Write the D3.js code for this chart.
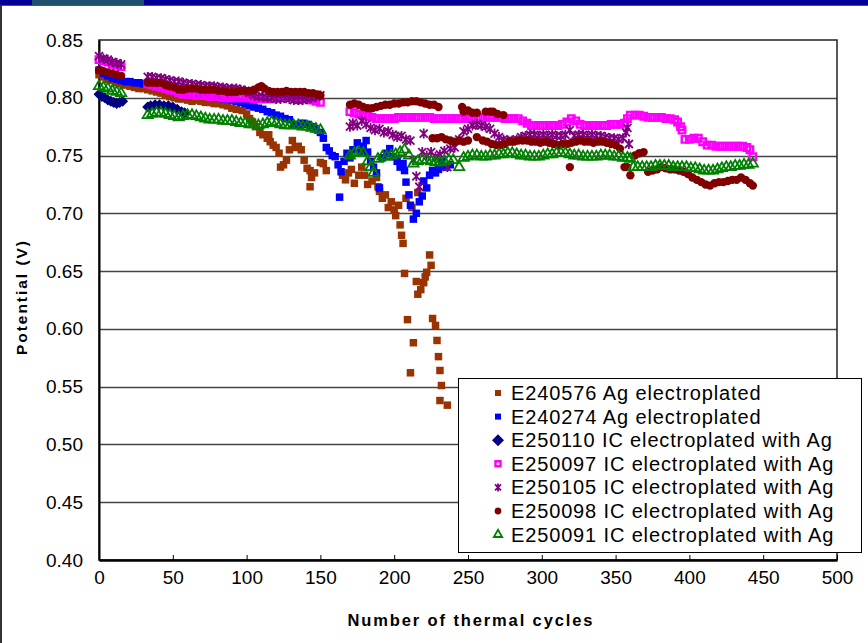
<!DOCTYPE html>
<html>
<head>
<meta charset="utf-8">
<script src="https://cdn.jsdelivr.net/npm/d3@7"></script>
<style>
  body { margin: 0; background: #fff; }
  svg { display: block; font-family: Arial, "Liberation Sans", sans-serif; }
</style>
</head>
<body>
<svg id="chart"></svg>
<script>
// series names, in legend order
var seriesNames = [
    'E240576 Ag electroplated',
    'E240274 Ag electroplated',
    'E250110 IC electroplated with Ag',
    'E250097 IC electroplated with Ag',
    'E250105 IC electroplated with Ag',
    'E250098 IC electroplated with Ag',
    'E250091 IC electroplated with Ag'
];

// axis ticks
var xTicks = [0, 50, 100, 150, 200, 250, 300, 350, 400, 450, 500];
var yTicks = [0.40, 0.45, 0.50, 0.55, 0.60, 0.65, 0.70, 0.75, 0.80, 0.85];

// [cycle, potential]
var e240576 = [[0,0.820],[3,0.818],[6,0.816],[9,0.815],[12,0.813],[15,0.812],[18,0.811],[21,0.810],[24,0.809],[27,0.808],[30,0.808],
    [33,0.807],[36,0.806],[39,0.805],[42,0.804],[45,0.802],[48,0.801],[51,0.800],[54,0.799],[57,0.799],[60,0.798],[63,0.797],
    [66,0.798],[69,0.797],[72,0.796],[75,0.796],[78,0.795],[81,0.795],[84,0.794],[87,0.793],[90,0.791],[93,0.790],[97,0.789],
    [100,0.786],[102,0.782],[104,0.779],[106,0.775],[109,0.770],[111,0.768],[114,0.765],[116,0.762],[118,0.759],[120,0.757],
    [115,0.768],[122,0.752],[123,0.740],[125,0.742],[127,0.746],[129,0.755],[131,0.763],[133,0.757],[135,0.758],[137,0.755],
    [139,0.746],[141,0.739],[143,0.737],[144,0.731],[143,0.723],[146,0.735],[150,0.744],[152,0.743],[154,0.737],
    [165,0.733],[167,0.729],[169,0.735],[171,0.738],[173,0.726],[176,0.733],[178,0.740],[180,0.733],[182,0.725],[185,0.728],
    [188,0.731],[189,0.723],[190,0.719],[192,0.713],[194,0.716],[196,0.705],[198,0.710],[200,0.703],[201,0.698],[203,0.707],
    [204,0.690],[205,0.681],[206,0.674],[208,0.713],[212,0.705],[216,0.718],[207,0.648],[209,0.608],[211,0.562],[213,0.588],
    [215,0.641],[216,0.630],[218,0.634],[220,0.640],[221,0.645],[222,0.649],[224,0.664],[225,0.655],[226,0.609],[228,0.603],
    [229,0.590],[230,0.576],[231,0.564],[232,0.551],[231,0.538],[236,0.534]];

var e240274 = [[0,0.824],[3,0.821],[6,0.819],[9,0.817],[12,0.816],[15,0.815],[18,0.814],[21,0.814],[24,0.813],[27,0.813],
    [30,0.812],[33,0.812],[36,0.811],[39,0.810],[42,0.810],[45,0.809],[48,0.808],[51,0.808],[54,0.807],[57,0.806],[60,0.805],
    [63,0.804],[66,0.803],[69,0.802],[72,0.802],[75,0.801],[78,0.800],[81,0.800],[84,0.799],[87,0.799],[90,0.798],[93,0.797],
    [96,0.796],[99,0.795],[102,0.793],[105,0.792],[108,0.791],[111,0.790],[114,0.788],[117,0.787],[120,0.785],[123,0.784],
    [126,0.782],[129,0.781],[132,0.777],[135,0.776],[138,0.778],[141,0.777],[144,0.775],[147,0.773],[150,0.770],[152,0.765],
    [154,0.757],[156,0.754],[158,0.750],[160,0.749],[162,0.742],[163,0.714],[164,0.736],[166,0.745],[168,0.752],[170,0.748],
    [172,0.755],[175,0.761],[177,0.753],[179,0.758],[181,0.763],[182,0.753],[184,0.745],[186,0.740],[188,0.735],[190,0.722],
    [192,0.748],[195,0.752],[197,0.756],[199,0.749],[202,0.745],[204,0.740],[206,0.743],[207,0.737],[208,0.727],[210,0.716],
    [211,0.707],[213,0.695],[215,0.700],[217,0.710],[219,0.715],[220,0.728],[222,0.722],[224,0.733],[226,0.737],[228,0.735],
    [230,0.738],[232,0.745],[235,0.740],[238,0.742]];

var e250110 = [[0,0.803],[2,0.801],[4,0.800],[6,0.798],[8,0.797],[10,0.796],[12,0.795],[14,0.796],[16,0.797],
    [33,0.792],[35,0.793],[38,0.794],[41,0.794],[44,0.793],[47,0.793],[50,0.792],[53,0.790],[56,0.788],[58,0.787]];

var e250097 = [[0,0.833],[3,0.832],[6,0.831],[9,0.829],[12,0.828],[15,0.827],
    [33,0.812],[36,0.811],[39,0.810],[42,0.809],[45,0.808],[48,0.807],[51,0.806],[54,0.804],[57,0.803],[60,0.803],[63,0.803],
    [66,0.802],[69,0.802],[72,0.802],[75,0.801],[78,0.801],[81,0.801],[84,0.800],[87,0.800],[90,0.800],[93,0.800],[96,0.800],
    [99,0.800],[102,0.800],[105,0.799],[108,0.799],[111,0.799],[114,0.799],[117,0.799],[120,0.802],[123,0.802],[126,0.802],
    [129,0.802],[132,0.801],[135,0.801],[138,0.800],[141,0.799],[144,0.798],[147,0.797],[150,0.796],
    [170,0.788],[173,0.787],[176,0.786],[179,0.785],[182,0.784],[185,0.783],[188,0.782],[191,0.782],[194,0.782],[197,0.782],
    [200,0.782],[203,0.783],[206,0.783],[209,0.783],[212,0.783],[215,0.783],[218,0.783],[221,0.783],[224,0.783],[227,0.782],
    [230,0.782],[233,0.782],[236,0.782],[239,0.782],[242,0.782],[245,0.782],[248,0.782],[251,0.782],[254,0.783],[257,0.783],
    [260,0.783],[263,0.783],[266,0.783],[269,0.783],[272,0.783],[275,0.782],[278,0.782],[281,0.782],[284,0.782],[287,0.780],
    [290,0.778],[293,0.776],[296,0.776],[299,0.776],[302,0.776],[305,0.776],[308,0.776],[311,0.776],[314,0.777],[317,0.779],
    [320,0.782],[323,0.780],[326,0.777],[329,0.776],[332,0.776],[335,0.776],[338,0.776],[341,0.776],[344,0.776],[347,0.777],
    [350,0.777],[353,0.777],[356,0.778],[358,0.782],[360,0.785],[363,0.785],[366,0.785],[369,0.784],[372,0.783],[375,0.783],
    [378,0.783],[381,0.783],[384,0.782],[387,0.782],[390,0.781],[392,0.779],[394,0.775],[395,0.772],[397,0.764],[400,0.764],
    [403,0.765],[406,0.765],[409,0.762],[412,0.759],[415,0.759],[418,0.758],[421,0.758],[424,0.758],[427,0.758],[430,0.758],
    [433,0.758],[436,0.758],[439,0.757],[441,0.755],[443,0.749]];

var e250105 = [[0,0.836],[3,0.834],[6,0.833],[9,0.831],[12,0.830],[15,0.829],
    [33,0.818],[36,0.818],[39,0.817],[42,0.817],[45,0.816],[48,0.815],[51,0.814],[54,0.814],[57,0.813],[60,0.812],[63,0.812],
    [66,0.811],[69,0.811],[72,0.810],[75,0.810],[78,0.810],[81,0.809],[84,0.809],[87,0.808],[90,0.808],[93,0.808],[96,0.807],
    [99,0.806],[102,0.804],[105,0.802],[108,0.801],[111,0.801],[114,0.800],[117,0.800],[120,0.799],[123,0.799],[126,0.800],
    [129,0.799],[132,0.798],[135,0.798],[138,0.798],[141,0.799],[144,0.800],[147,0.801],[150,0.802],
    [170,0.775],[172,0.778],[175,0.776],[178,0.780],[181,0.777],[184,0.774],[187,0.772],[190,0.773],[193,0.770],[196,0.771],
    [199,0.768],[202,0.766],[205,0.767],[208,0.764],[211,0.763],[213,0.746],[215,0.732],[217,0.723],[219,0.753],[220,0.769],
    [222,0.750],[225,0.753],[228,0.749],[231,0.751],[234,0.754],[236,0.740],[238,0.756],[241,0.757],[244,0.764],[247,0.771],
    [250,0.773],[253,0.776],[256,0.777],[259,0.776],[262,0.775],[265,0.773],[268,0.769],[271,0.766],[274,0.764],[277,0.763],
    [280,0.763],[283,0.764],[286,0.766],[289,0.767],[292,0.768],[295,0.768],[298,0.767],[301,0.768],[304,0.767],[307,0.768],
    [310,0.767],[313,0.767],[316,0.768],[319,0.772],[322,0.767],[325,0.768],[328,0.768],[331,0.767],[334,0.768],[337,0.767],
    [340,0.767],[343,0.766],[346,0.765],[349,0.765],[352,0.764],[355,0.765],[357,0.770],[358,0.774],[359,0.760]];

var e250098 = [[0,0.824],[3,0.823],[6,0.822],[9,0.821],[12,0.820],[15,0.819],
    [33,0.813],[36,0.813],[39,0.813],[42,0.813],[45,0.811],[48,0.810],[51,0.809],[54,0.807],[57,0.807],[60,0.808],[63,0.808],
    [66,0.808],[69,0.807],[72,0.807],[75,0.807],[78,0.807],[81,0.806],[84,0.806],[87,0.805],[90,0.805],[93,0.805],[96,0.806],
    [99,0.806],[102,0.806],[105,0.807],[108,0.809],[110,0.810],[112,0.808],[115,0.806],[118,0.805],[121,0.805],[124,0.805],
    [127,0.806],[130,0.805],[133,0.805],[136,0.805],[139,0.805],[142,0.804],[145,0.804],[148,0.803],[150,0.802],
    [170,0.794],[173,0.795],[176,0.794],[179,0.792],[182,0.791],[185,0.791],[188,0.792],[191,0.793],[194,0.794],[197,0.794],
    [200,0.795],[203,0.795],[206,0.796],[209,0.796],[212,0.797],[215,0.797],[218,0.796],[221,0.795],[224,0.794],[227,0.794],
    [230,0.792],[226,0.765],[229,0.765],[232,0.766],[235,0.764],[238,0.763],
    [246,0.792],[247,0.788],[250,0.789],[253,0.787],[256,0.787],[262,0.788],[265,0.788],[267,0.788],[270,0.786],[274,0.785],
    [241,0.762],[244,0.763],[247,0.762],[250,0.763],[256,0.766],[260,0.763],[263,0.762],[266,0.760],[269,0.759],[272,0.759],
    [275,0.760],[278,0.762],[281,0.762],[284,0.763],[287,0.763],[290,0.763],[293,0.762],[296,0.762],[299,0.761],[302,0.762],
    [305,0.761],[308,0.760],[311,0.759],[314,0.760],[317,0.760],[319,0.740],[320,0.761],[323,0.762],[326,0.763],[329,0.762],
    [332,0.762],[335,0.761],[338,0.762],[341,0.762],[344,0.761],[347,0.760],[350,0.759],[353,0.756],[356,0.740],[358,0.740],
    [360,0.733],[363,0.750],[366,0.752],[369,0.753],[372,0.736],[375,0.737],[378,0.738],[381,0.740],[384,0.739],[387,0.738],
    [390,0.738],[393,0.737],[396,0.736],[399,0.734],[402,0.731],[405,0.729],[408,0.727],[411,0.725],[414,0.724],[417,0.726],
    [420,0.727],[423,0.727],[426,0.728],[429,0.729],[432,0.729],[435,0.731],[438,0.729],[441,0.726],[443,0.724]];

var e250091 = [[0,0.810],[3,0.809],[6,0.808],[9,0.806],[12,0.805],[15,0.804],
    [33,0.785],[36,0.786],[39,0.787],[42,0.787],[45,0.786],[48,0.785],[51,0.784],[54,0.783],[57,0.784],[60,0.785],[63,0.785],
    [66,0.784],[69,0.783],[72,0.782],[75,0.781],[78,0.781],[81,0.781],[84,0.780],[87,0.780],[90,0.780],[93,0.779],[96,0.778],
    [99,0.778],[102,0.777],[105,0.777],[108,0.776],[111,0.777],[114,0.778],[117,0.779],[120,0.778],[123,0.777],[126,0.776],
    [129,0.776],[132,0.776],[135,0.776],[138,0.775],[141,0.775],[144,0.774],[147,0.773],[150,0.772],
    [170,0.750],[173,0.752],[176,0.753],[179,0.752],[182,0.745],[184,0.740],[186,0.735],[189,0.747],[192,0.749],[195,0.749],
    [198,0.750],[201,0.751],[204,0.753],[207,0.755],[210,0.750],[213,0.743],[216,0.745],[219,0.746],[222,0.746],[225,0.745],
    [228,0.744],[231,0.744],[234,0.745],[237,0.746],[240,0.746],[244,0.740],[247,0.748],[250,0.749],[253,0.750],[256,0.750],
    [259,0.749],[262,0.749],[265,0.750],[268,0.750],[271,0.751],[274,0.751],[277,0.752],[280,0.752],[283,0.751],[286,0.750],
    [289,0.750],[292,0.749],[295,0.749],[298,0.749],[301,0.750],[304,0.751],[307,0.751],[310,0.752],[313,0.752],[316,0.752],
    [319,0.751],[322,0.750],[325,0.750],[328,0.749],[331,0.749],[334,0.749],[337,0.749],[340,0.750],[343,0.750],[346,0.750],
    [349,0.749],[352,0.749],[355,0.748],[358,0.748],[360,0.747],[362,0.740],[365,0.740],[368,0.740],[371,0.740],[374,0.740],
    [377,0.741],[380,0.741],[383,0.741],[386,0.741],[389,0.740],[392,0.740],[395,0.740],[398,0.740],[401,0.739],[404,0.739],
    [407,0.738],[410,0.737],[413,0.737],[416,0.737],[419,0.738],[422,0.739],[425,0.740],[428,0.740],[431,0.741],[434,0.741],
    [437,0.742],[440,0.742],[443,0.743]];

var allSeries = [e240576, e240274, e250110, e250097, e250105, e250098, e250091];

// chart size
var width = 868, height = 643;
var plotLeft = 99, plotRight = 837, plotTop = 40, plotBottom = 560;

var svg = d3.select('#chart')
    .attr('width', width)
    .attr('height', height);

// slide frame
svg.append('rect').attr('x', 0).attr('y', 0).attr('width', width).attr('height', 5).attr('fill', '#000096');
svg.append('rect').attr('x', 32).attr('y', 0).attr('width', 112).attr('height', 5).attr('fill', '#1f5070');
svg.append('line').attr('x1', 0).attr('x2', width).attr('y1', 5.5).attr('y2', 5.5).attr('stroke', '#555').attr('stroke-width', 1);
svg.append('line').attr('x1', 1).attr('x2', 1).attr('y1', 5).attr('y2', height).attr('stroke', '#333').attr('stroke-width', 2);

var xScale = d3.scaleLinear().domain([0, 500]).range([plotLeft, plotRight]);
var yScale = d3.scaleLinear().domain([0.40, 0.85]).range([plotBottom, plotTop]);

// gridlines
svg.append('g')
    .selectAll('line')
    .data(yTicks.slice(1, -1))
    .enter()
    .append('line')
    .attr('x1', plotLeft).attr('x2', plotRight)
    .attr('y1', function (d) { return Math.round(yScale(d)) + 0.5; })
    .attr('y2', function (d) { return Math.round(yScale(d)) + 0.5; })
    .attr('stroke', '#444')
    .attr('stroke-width', 1.3);

// plot border
svg.append('rect')
    .attr('x', plotLeft).attr('y', plotTop)
    .attr('width', plotRight - plotLeft).attr('height', plotBottom - plotTop)
    .attr('fill', 'none').attr('stroke', '#222').attr('stroke-width', 1.5);

// x axis with inward ticks
var xAxis = svg.append('g')
    .attr('transform', 'translate(0,' + plotBottom + ')')
    .call(d3.axisBottom(xScale).tickValues(xTicks).tickSizeInner(-5).tickSizeOuter(0).tickPadding(11));
xAxis.select('.domain').attr('stroke', '#000').attr('stroke-width', 2.5);
xAxis.selectAll('.tick line').attr('stroke', '#000');
xAxis.selectAll('text').attr('font-size', '19px').attr('fill', '#000')
    .attr('font-family', 'Arial, "Liberation Sans", sans-serif');

// y axis
var yAxis = svg.append('g')
    .attr('transform', 'translate(' + plotLeft + ',0)')
    .call(d3.axisLeft(yScale).tickValues(yTicks).tickFormat(d3.format('.2f')).tickSize(0).tickPadding(16));
yAxis.select('.domain').attr('stroke', '#000').attr('stroke-width', 2);
yAxis.selectAll('text').attr('font-size', '19px').attr('fill', '#000')
    .attr('font-family', 'Arial, "Liberation Sans", sans-serif');

// axis titles
svg.append('text')
    .attr('x', 470).attr('y', 626)
    .attr('text-anchor', 'middle')
    .attr('font-size', '16.5px').attr('font-weight', 'bold')
    .attr('textLength', 245)
    .text('Number of thermal cycles');

svg.append('text')
    .attr('transform', 'translate(27,298) rotate(-90)')
    .attr('text-anchor', 'middle')
    .attr('font-size', '15.5px').attr('font-weight', 'bold')
    .attr('textLength', 114)
    .text('Potential (V)');

// marker shapes
var asterisk = function (s) {
    return 'M' + (-s) + ',' + (-s) + 'L' + s + ',' + s + 'M' + (-s) + ',' + s + 'L' + s + ',' + (-s) + 'M0,' + (-s - 1) + 'L0,' + (s + 1);
};
var diamond = function (s) {
    return 'M0,' + (-s) + 'L' + s + ',0L0,' + s + 'L' + (-s) + ',0Z';
};
var markers = [
    { path: d3.symbol(d3.symbolSquare, 56)(), legend: d3.symbol(d3.symbolSquare, 36)(), fill: '#993300', stroke: 'none', sw: 0 },
    { path: d3.symbol(d3.symbolSquare, 56)(), legend: d3.symbol(d3.symbolSquare, 36)(), fill: '#0000ff', stroke: 'none', sw: 0 },
    { path: diamond(5.5), legend: diamond(6), fill: '#000080', stroke: 'none', sw: 0 },
    { path: d3.symbol(d3.symbolSquare, 42)(), legend: d3.symbol(d3.symbolSquare, 25)(), fill: 'none', stroke: '#ff00ff', sw: 2.4 },
    { path: asterisk(4), legend: asterisk(3), fill: 'none', stroke: '#800080', sw: 1.8 },
    { path: d3.symbol(d3.symbolCircle, 55)(), legend: d3.symbol(d3.symbolCircle, 36)(), fill: '#800000', stroke: 'none', sw: 0 },
    { path: d3.symbol(d3.symbolTriangle, 45)(), legend: d3.symbol(d3.symbolTriangle, 30)(), fill: 'none', stroke: '#008000', sw: 1.8 }
];

// draw the series, later ones on top
allSeries.forEach(function (data, k) {
    var m = markers[k];
    svg.append('g')
        .selectAll('path')
        .data(data)
        .enter()
        .append('path')
        .attr('d', m.path)
        .attr('transform', function (d) { return 'translate(' + xScale(d[0]) + ',' + yScale(d[1]) + ')'; })
        .attr('fill', m.fill)
        .attr('stroke', m.stroke)
        .attr('stroke-width', m.sw);
});

// legend
var legend = svg.append('g');
legend.append('rect')
    .attr('x', 458.5).attr('y', 378.5)
    .attr('width', 403).attr('height', 174)
    .attr('fill', '#fff').attr('stroke', '#000').attr('stroke-width', 1);

var rows = legend.selectAll('g.row')
    .data(seriesNames)
    .enter()
    .append('g')
    .attr('class', 'row')
    .attr('transform', function (d, i) { return 'translate(0,' + (393 + i * 23.6) + ')'; });

rows.append('path')
    .attr('d', function (d, i) { return markers[i].legend; })
    .attr('transform', 'translate(498,0)')
    .attr('fill', function (d, i) { return markers[i].fill; })
    .attr('stroke', function (d, i) { return markers[i].stroke; })
    .attr('stroke-width', function (d, i) { return markers[i].sw; });

rows.append('text')
    .attr('x', 511)
    .attr('y', 7)
    .attr('font-size', '20px')
    .attr('fill', '#000')
    .text(function (d) { return d; })
    .each(function () {
        // the source font runs a little wider than Liberation Sans
        var w = this.getComputedTextLength();
        d3.select(this).attr('textLength', w * 1.09);
    });
</script>
</body>
</html>
